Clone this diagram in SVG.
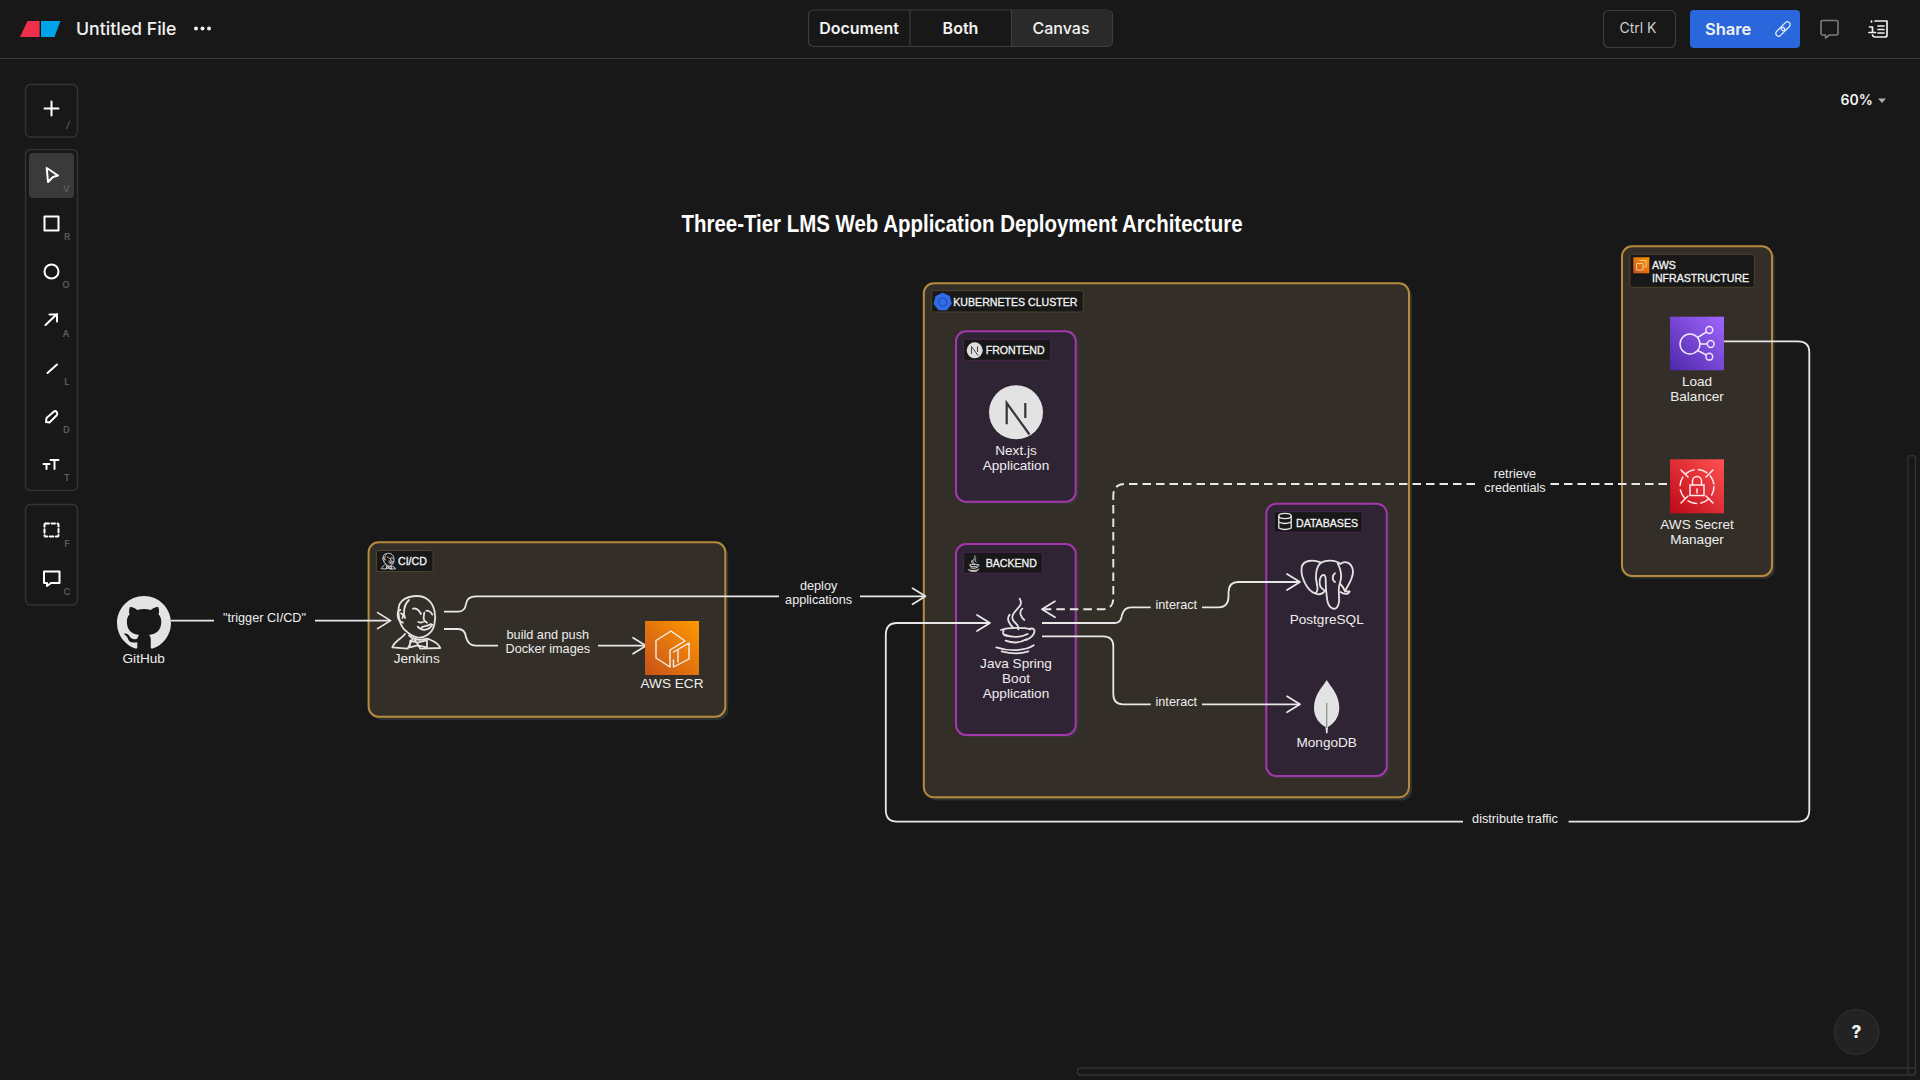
<svg xmlns="http://www.w3.org/2000/svg" xmlns:xlink="http://www.w3.org/1999/xlink" width="1920" height="1080" viewBox="0 0 1920 1080">
<style>
text{font-family:"Liberation Sans",Arial,sans-serif;fill:#eeeeee}
.ui{font-family:Inter,"Noto Sans",sans-serif;fill:#f2f2f2;font-weight:500}
.key{font-family:Inter,"Noto Sans",sans-serif;fill:#5c5c5c;font-size:9.5px;font-weight:600;text-anchor:middle}
.n{font-size:13.6px;text-anchor:middle}
.c{font-size:12.7px;text-anchor:middle}
.tag{font-size:10.6px;fill:#f4f4f4;stroke:#f4f4f4;stroke-width:.3px}
.outer{fill:#332f28;stroke:#b68a3c;stroke-width:2}
.inner{fill:#2e2433;stroke:#a536ad;stroke-width:2}
.sh{fill:#3a3a3a;opacity:.75}
.to{fill:#181818;stroke:#4e4329;stroke-width:1}
.ti{fill:#181818;stroke:#4a2450;stroke-width:1}
.tb{fill:none;stroke:#333;stroke-width:1.5}
.ic{fill:none;stroke:#fff;stroke-width:2;stroke-linecap:round;stroke-linejoin:round}
.wl{fill:none;stroke:#f0f0f0;stroke-width:1.4;stroke-linecap:round;stroke-linejoin:round}
.conn{fill:none;stroke:#e8e8e8;stroke-width:1.8;marker-end:url(#chev)}
.dash{stroke-dasharray:8.5 5;stroke-width:1.9}
</style>
<defs>
<marker id="chev" markerUnits="userSpaceOnUse" markerWidth="24" markerHeight="24" refX="20" refY="12" orient="auto" overflow="visible">
<path d="M7 4 L20 12 L7 20" fill="none" stroke="#e8e8e8" stroke-width="1.7" stroke-linecap="round" stroke-linejoin="round"/>
</marker>
<linearGradient id="gEcr" x1="0" y1="1" x2="1" y2="0"><stop offset="0" stop-color="#c8511b"/><stop offset="1" stop-color="#ff9900"/></linearGradient>
<linearGradient id="gLb" x1="0" y1="1" x2="1" y2="0"><stop offset="0" stop-color="#4d27a8"/><stop offset="1" stop-color="#a166ff"/></linearGradient>
<linearGradient id="gSec" x1="0" y1="1" x2="1" y2="0"><stop offset="0" stop-color="#bd0816"/><stop offset="1" stop-color="#ff5252"/></linearGradient>
<g id="jenkinsArt">
<path d="M62 122 C42 108 36 62 44 42 C58 16 108 10 130 30 C150 46 154 80 148 104 C142 130 118 146 96 142 C82 139 70 130 62 122 Z"/>
<path d="M46 60 C34 58 34 94 54 98 M72 30 C56 44 54 68 60 84 M48 70 C54 72 56 78 52 84"/>
<path d="M84 56 C92 54 102 60 108 72 M124 62 C132 62 138 66 142 74 M98 110 C112 126 132 120 142 104 M110 112 C120 108 130 108 138 102 M118 68 C116 80 112 92 126 98 M100 96 C106 98 110 98 114 96"/>
<path d="M60 132 C48 148 30 150 22 172 L68 176 L82 148 M128 146 C142 152 160 158 166 174 L106 176 L90 150 M98 158 L126 150 L126 172 L98 166 L74 172 L76 152 Z"/>
<path d="M72 136 C84 150 108 152 124 146"/>
</g>
<g id="javaArt">
<path d="M104 20 C122 46 72 58 84 84 C90 96 104 98 100 112 M74 68 C62 82 74 96 84 106 M112 50 C100 60 108 76 118 84"/>
<path d="M48 114 C70 106 118 106 136 112 M58 128 C80 138 110 136 128 126 M62 146 C84 154 108 152 124 142 M136 110 C156 106 152 132 124 144"/>
<path d="M34 166 C76 180 122 176 146 160 M50 178 C80 186 112 184 130 178"/>
<path d="M56 116 C50 124 56 130 66 132"/>
</g>
</defs>

<rect id="background" width="1920" height="1080" fill="#181818"/>

<g id="topbar">
<path d="M0 58.5 H1920" stroke="#3a3a3a" stroke-width="1.2"/>
<polygon points="20,37 27.5,21 39.6,21 39.6,37" fill="#f0304a"/>
<polygon points="41,21 60.4,21 54.5,37 41,37" fill="#00a2e8"/>
<text class="ui" x="76" y="35" font-size="17.7">Untitled File</text>
<g fill="#f0f0f0"><circle cx="196" cy="28.5" r="2"/><circle cx="202.5" cy="28.5" r="2"/><circle cx="209" cy="28.5" r="2"/></g>
<rect x="808.5" y="10" width="304" height="36.5" rx="5" fill="#181818" stroke="#3d3d3d" stroke-width="1.2"/>
<path d="M1011.5 10.6 H1108 a4 4 0 0 1 4 4 V42 a4 4 0 0 1 -4 4 H1011.5 Z" fill="#2a2a2a"/>
<path d="M910 10 V46.5 M1011.5 10 V46.5" stroke="#3d3d3d" stroke-width="1.2"/>
<text class="ui" x="859" y="34" font-size="16" text-anchor="middle" style="font-weight:600">Document</text>
<text class="ui" x="960.5" y="34" font-size="16" text-anchor="middle" style="font-weight:600">Both</text>
<text class="ui" x="1061" y="34" font-size="16" text-anchor="middle">Canvas</text>
<rect x="1603.5" y="10.5" width="72" height="37" rx="5" fill="none" stroke="#3d3d3d" stroke-width="1.2"/>
<text class="ui" x="1638" y="33" font-size="14" text-anchor="middle" style="fill:#cfcfcf;font-weight:400">Ctrl K</text>
<rect x="1690" y="10" width="110" height="38" rx="4" fill="#2a67dc"/>
<text class="ui" x="1705" y="35" font-size="16.5" style="font-weight:600">Share</text>
<g transform="translate(1783,29) rotate(-45)" fill="none" stroke="#e6eefc" stroke-width="1.3">
<rect x="-9" y="-2.8" width="10.5" height="5.6" rx="2.8"/>
<rect x="-1.5" y="-2.8" width="10.5" height="5.6" rx="2.8"/>
</g>
<path d="M1822.5 20.5 H1836.5 Q1838 20.5 1838 22 V33.5 Q1838 35 1836.5 35 H1829.5 L1825.5 38 V35 H1822.5 Q1821 35 1821 33.5 V22 Q1821 20.5 1822.5 20.5 Z" fill="none" stroke="#7e7e7e" stroke-width="1.6" stroke-linejoin="round"/>
<g fill="none" stroke="#f0f0f0" stroke-width="1.7" stroke-linecap="round" stroke-linejoin="round">
<path d="M1875 21 H1887 V35 Q1887 37 1885 37 H1875 Q1873 37 1872.5 35"/>
<path d="M1878 26 H1884 M1878 29.5 H1884 M1878 33 H1884 M1869.5 27 H1872.5 V32 M1869 32.5 H1875.5 M1871.5 21 V22"/>
</g>
<text class="ui" x="1840.5" y="105" font-size="14" style="font-weight:600">60%</text>
<polygon points="1878,98.5 1886,98.5 1882,103" fill="#b0b0b0"/>
</g>

<g id="toolbar">
<rect class="tb" x="25.5" y="84.5" width="52" height="52.5" rx="5"/>
<rect class="tb" x="25.5" y="149.5" width="52" height="341" rx="5"/>
<rect class="tb" x="25.5" y="504.5" width="52" height="100.5" rx="5"/>
<rect x="29" y="153" width="45" height="45" rx="4" fill="#3a3a3a"/>
<path class="ic" d="M44.5 108.5 H58.5 M51.5 101.5 V115.5" stroke-width="1.6"/>
<path class="ic" d="M46.7 168 L58 175.5 L53 177 L48 182 Z"/>
<rect class="ic" x="44.5" y="216.5" width="14" height="14"/>
<circle class="ic" cx="51.5" cy="271.5" r="7"/>
<path class="ic" d="M45.5 325 L57 314 M49.5 314.5 H57 V321.5"/>
<path class="ic" d="M47.5 373 L57 364.5"/>
<path class="ic" d="M46 422 L46.5 418 L54 411.5 Q56 410.5 57 412.5 Q58 414 56.5 415.5 L49.5 422.5 Z"/>
<path class="ic" d="M43.5 464 H49.5 M46.5 464 V469 M50.5 460 H58.5 M54.5 460 V469"/>
<rect class="ic" x="44.5" y="523.5" width="14" height="13" rx="1" stroke-dasharray="3.5 2.5"/>
<path class="ic" d="M44 571.5 H59.5 V583 H51 L47 586 V583 H44 Z" stroke-width="1.8"/>
<text class="key" x="68" y="128" style="font-style:italic">/</text>
<text class="key" x="66.5" y="192">V</text>
<text class="key" x="67" y="240">R</text>
<text class="key" x="66" y="288">O</text>
<text class="key" x="66" y="337">A</text>
<text class="key" x="67" y="385">L</text>
<text class="key" x="66.5" y="433">D</text>
<text class="key" x="67" y="481">T</text>
<text class="key" x="67" y="547">F</text>
<text class="key" x="67" y="595">C</text>
</g>

<g id="scrollbars" fill="none" stroke="#333" stroke-width="1.3">
<rect x="1908" y="455.5" width="7.5" height="619.5" rx="3"/>
<rect x="1077.5" y="1068" width="838" height="7" rx="3"/>
</g>

<g id="help">
<circle cx="1856.5" cy="1032" r="22.5" fill="#232323" stroke="#333" stroke-width="1"/>
<text class="ui" x="1856.5" y="1038" font-size="17" text-anchor="middle" style="font-weight:800">?</text>
</g>

<text id="title" x="962" y="232" font-size="23" font-weight="700" text-anchor="middle" style="fill:#fff" textLength="561" lengthAdjust="spacingAndGlyphs">Three-Tier LMS Web Application Deployment Architecture</text>

<g id="group-cicd">
<rect class="sh" x="371.5" y="545.5" width="356.7" height="174.5" rx="10"/>
<rect class="outer" x="368.6" y="542.3" width="356.7" height="174.4" rx="10"/>
<rect class="to" x="376.5" y="550.5" width="56.5" height="21" rx="1.5"/>
<use href="#jenkinsArt" transform="translate(379,551.5) scale(.1)" fill="#181818" stroke="#ddd" stroke-width="9" stroke-linecap="round"/>
<text class="tag" x="398" y="565">CI/CD</text>
</g>

<g id="group-k8s">
<rect class="sh" x="926.8" y="286.5" width="485.2" height="514" rx="10"/>
<rect class="outer" x="923.8" y="283.3" width="485.2" height="514" rx="10"/>
<rect class="to" x="931.7" y="290.7" width="151.6" height="21.3" rx="1.5"/>
<polygon points="942.7,293.5 949.3,296.7 951,303.9 946.4,309.6 939,309.6 934.4,303.9 936.1,296.7" fill="#326ce5" stroke="#326ce5" stroke-width="1.5" stroke-linejoin="round"/>
<circle cx="942.7" cy="302" r="4" fill="none" stroke="#1e4bb0" stroke-width="1.2"/>
<text class="tag" x="953.3" y="305.5">KUBERNETES CLUSTER</text>
</g>

<g id="group-frontend">
<rect class="sh" x="958.5" y="334" width="119.7" height="170.4" rx="10"/>
<rect class="inner" x="956" y="331.3" width="119.7" height="170.4" rx="10"/>
<rect class="ti" x="963.7" y="339.3" width="87" height="21" rx="1.5"/>
<circle cx="974.7" cy="350.3" r="8" fill="#dcdcdc"/>
<path d="M971.5 354 V346.5 L978 355.5 M977.5 346.5 V352" fill="none" stroke="#444" stroke-width="1"/>
<text class="tag" x="985.7" y="354.3">FRONTEND</text>
</g>

<g id="group-backend">
<rect class="sh" x="958.5" y="546.7" width="119.7" height="191" rx="10"/>
<rect class="inner" x="956" y="544" width="119.7" height="191" rx="10"/>
<rect class="ti" x="963.7" y="552.3" width="78.6" height="21" rx="1.5"/>
<use href="#javaArt" transform="translate(965,554) scale(.095)" fill="none" stroke="#ddd" stroke-width="10" stroke-linecap="round"/>
<text class="tag" x="985.7" y="567.3">BACKEND</text>
</g>

<g id="group-databases">
<rect class="sh" x="1268.8" y="506.4" width="120.4" height="272.3" rx="10"/>
<rect class="inner" x="1266.3" y="503.7" width="120.4" height="272.3" rx="10"/>
<rect class="ti" x="1274" y="511.7" width="88.3" height="20.6" rx="1.5"/>
<g fill="none" stroke="#e8e8e8" stroke-width="1.3">
<ellipse cx="1285" cy="516" rx="6.2" ry="2.6"/>
<path d="M1278.8 516 V528 Q1285 531 1291.2 528 V516 M1278.8 522 Q1285 525 1291.2 522"/>
</g>
<text class="tag" x="1296" y="526.5">DATABASES</text>
</g>

<g id="group-aws">
<rect class="sh" x="1624.8" y="249" width="150" height="329.7" rx="10"/>
<rect class="outer" x="1622" y="246.3" width="150" height="329.7" rx="10"/>
<rect class="to" x="1630" y="254.3" width="124.3" height="33" rx="1.5"/>
<rect x="1633.3" y="257.3" width="16" height="16" fill="url(#gEcr)"/>
<path d="M1636.5 263.5 h6.5 v6.5 h-6.5 Z M1639.5 260.5 h6.5 v6.5 h-3" fill="none" stroke="#f7d9b8" stroke-width=".8"/>
<text class="tag" x="1652" y="269.3">AWS</text>
<text class="tag" x="1652" y="281.7">INFRASTRUCTURE</text>
</g>

<g id="connectors">
<path class="conn" d="M171 620.6 H214 M315 620.6 H390.6"/>
<path class="conn" d="M444 611.7 H458 Q465 611.7 466 604 Q467 596.3 476 596.3 H779 M860 596.3 H925.5"/>
<path class="conn" d="M444 629 H458 Q465 629 466 637 Q468 645.7 476 645.7 H498 M598 645.7 H646"/>
<path class="conn" d="M1042 623 H1115 Q1121 623 1122 615 Q1124 607.3 1131 607.3 H1150.7 M1202 607.3 H1219 Q1228 607.3 1228.5 597 V592 Q1229 582 1238 582 H1300"/>
<path class="conn" d="M1042 636.3 H1103 Q1113.3 636.3 1113.3 646 V694 Q1113.3 704.3 1123 704.3 H1150.7 M1202 704.3 H1300"/>
<path class="conn dash" d="M1667 484 H1550 M1475 484 H1125 Q1113.3 484 1113.3 496 V598 Q1113.3 609.3 1102 609.3 H1042"/>
<path class="conn" d="M1724 341.3 H1798 Q1809.3 341.3 1809.3 352 V810 Q1809.3 821.6 1798 821.6 H1568.6 M1463 821.6 H897 Q885.8 821.6 885.8 810 V635 Q885.8 623 897 623 H990"/>
<text class="c" x="264.5" y="622">"trigger CI/CD"</text>
<text class="c" x="547.8" y="639">build and push</text>
<text class="c" x="547.8" y="652.5">Docker images</text>
<text class="c" x="818.6" y="589.5">deploy</text>
<text class="c" x="818.6" y="603.5">applications</text>
<text class="c" x="1176.3" y="609">interact</text>
<text class="c" x="1176.3" y="706">interact</text>
<text class="c" x="1515" y="478">retrieve</text>
<text class="c" x="1515" y="491.5">credentials</text>
<text class="c" x="1515" y="823">distribute traffic</text>
</g>

<g id="node-github">
<path transform="translate(117,596) scale(3.375)" fill="#e3e3e3" d="M8 0C3.58 0 0 3.58 0 8c0 3.54 2.29 6.53 5.47 7.59.4.07.55-.17.55-.38 0-.19-.01-.82-.01-1.49-2.01.37-2.53-.49-2.69-.94-.09-.23-.48-.94-.82-1.13-.28-.15-.68-.52-.01-.53.63-.01 1.08.58 1.23.82.72 1.21 1.87.87 2.33.66.07-.52.28-.87.51-1.07-1.78-.2-3.64-.89-3.64-3.95 0-.87.31-1.59.82-2.15-.08-.2-.36-1.02.08-2.12 0 0 .67-.21 2.2.82.64-.18 1.32-.27 2-.27.68 0 1.36.09 2 .27 1.53-1.04 2.2-.82 2.2-.82.44 1.1.16 1.92.08 2.12.51.56.82 1.27.82 2.15 0 3.07-1.87 3.75-3.65 3.95.29.25.54.73.54 1.48 0 1.07-.01 1.93-.01 2.2 0 .21.15.46.55.38A8.013 8.013 0 0016 8c0-4.42-3.58-8-8-8z"/>
<text class="n" x="143.7" y="663">GitHub</text>
</g>

<g id="node-jenkins">
<use href="#jenkinsArt" transform="translate(385,590) scale(.3333)" fill="none" stroke="#e2e2e2" stroke-width="5.5" stroke-linecap="round" stroke-linejoin="round"/>
<text class="n" x="416.7" y="663">Jenkins</text>
</g>

<g id="node-ecr">
<rect x="645" y="621" width="54" height="54" fill="url(#gEcr)"/>
<path class="wl" d="M671 631 L656 640.5 V658 L670 667 V650 L685 641 Z M673.5 652 L689 643 V659 L673.5 667 V660 M678 649.5 V662"/>
<text class="n" x="672" y="688">AWS ECR</text>
</g>

<g id="node-next">
<circle cx="1016" cy="412.3" r="27" fill="#e3e3e3"/>
<path d="M1006.7 424.3 V403 L1029.5 434.5 M1025.3 403 V418" fill="none" stroke="#3a3340" stroke-width="2.2"/>
<text class="n" x="1016" y="455">Next.js</text>
<text class="n" x="1016" y="470">Application</text>
</g>

<g id="node-java">
<use href="#javaArt" transform="translate(985,592) scale(.3333)" fill="none" stroke="#e2e2e2" stroke-width="5.5" stroke-linecap="round" stroke-linejoin="round"/>
<text class="n" x="1016" y="667.7">Java Spring</text>
<text class="n" x="1016" y="682.7">Boot</text>
<text class="n" x="1016" y="697.7">Application</text>
</g>

<g id="node-postgres">
<g transform="translate(1295,552) scale(.3333)" fill="none" stroke="#e2e2e2" stroke-width="5.5" stroke-linecap="round" stroke-linejoin="round">
<path d="M60 124 C36 116 16 74 20 46 C24 26 52 20 78 32 C92 24 120 22 136 36 C150 24 172 32 174 58 C174 84 158 100 150 118 L164 118 C160 128 148 128 136 120"/>
<path d="M78 32 C62 44 60 76 66 98 C70 112 66 122 60 124 C70 130 84 126 90 116 C80 110 72 104 74 88 C76 66 92 62 92 82 C92 100 92 114 96 140 C100 174 128 182 132 150 C134 130 128 112 134 96 C142 74 138 52 128 34"/>
<path d="M120 64 C112 70 110 84 120 90 M136 96 C144 104 148 112 150 118"/>
</g>
<text class="n" x="1326.7" y="624.3">PostgreSQL</text>
</g>

<g id="node-mongo">
<path d="M1326.7 680 C1330 686 1339.3 694 1339.3 708 C1339.3 718 1333 724 1328 727 L1327.5 733.3 H1326 L1325.5 727 C1320 724 1314 718 1314 708 C1314 694 1323.5 686 1326.7 680 Z" fill="#e3e3e3"/>
<path d="M1326.7 703 V728" stroke="#8a8a8a" stroke-width="1.2"/>
<text class="n" x="1326.7" y="746.7">MongoDB</text>
</g>

<g id="node-lb">
<rect x="1670" y="316.7" width="54" height="53.6" fill="url(#gLb)"/>
<g fill="none" stroke="#efe6ff" stroke-width="1.5">
<circle cx="1690" cy="344" r="10"/>
<circle cx="1709.3" cy="330" r="3.4"/><circle cx="1710.7" cy="344" r="3.4"/><circle cx="1709.3" cy="356.7" r="3.4"/>
<path d="M1697.5 337.5 L1706.5 332 M1700 344 H1707.3 M1697.5 350.5 L1706.5 355"/>
</g>
<text class="n" x="1697" y="386">Load</text>
<text class="n" x="1697" y="400.7">Balancer</text>
</g>

<g id="node-secret">
<rect x="1670" y="459.3" width="54" height="54" fill="url(#gSec)"/>
<g fill="none" stroke="#ffe9e9" stroke-width="1.5" stroke-linecap="round">
<circle cx="1697" cy="486.5" r="17" stroke-dasharray="9 4.5"/>
<path d="M1681 470 L1688 477 M1713 470 L1706 477 M1681 503 L1688 496 M1713 503 L1706 496"/>
<rect x="1690" y="485" width="14" height="10.5"/>
<path d="M1692.5 485 V481 a4.5 4.5 0 0 1 9 0 V485"/>
<path d="M1697 489 V493"/>
</g>
<text class="n" x="1697" y="529">AWS Secret</text>
<text class="n" x="1697" y="544">Manager</text>
</g>
</svg>
